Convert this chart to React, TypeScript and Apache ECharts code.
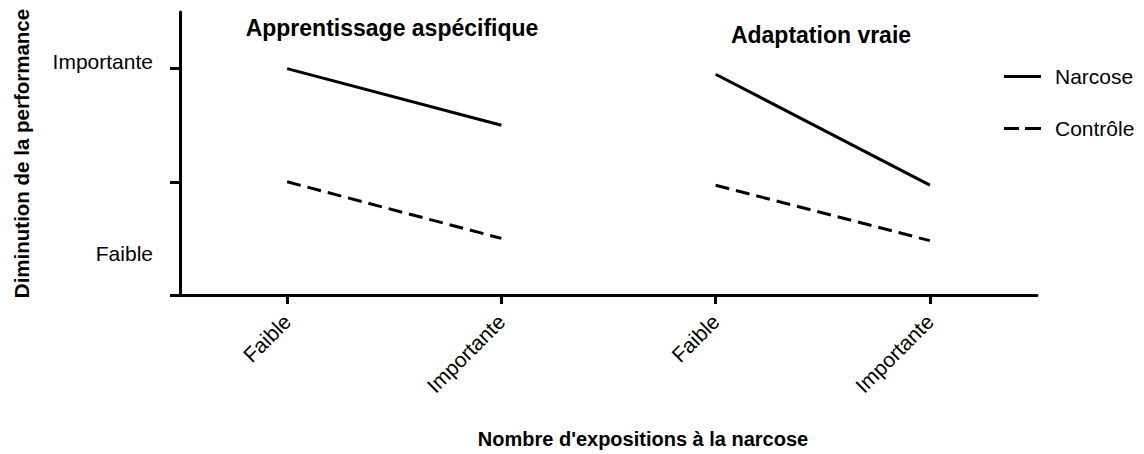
import React, { useEffect, useRef } from "react";
import * as echarts from "echarts";

const groupTitles = ["Apprentissage aspécifique", "Adaptation vraie"];
const xCategories = ["Faible", "Importante", "Faible", "Importante"];
const xValues = [0.5, 1.5, 2.5, 3.5];
const narcose = [2.0, 1.5, 1.95, 0.97];
const controle = [1.0, 0.5, 0.97, 0.48];
const yLevelLabels = ["Faible", "Importante"];
const seriesNames = ["Narcose", "Contrôle"];

const FONT = "'Liberation Sans', Arial, Helvetica, sans-serif";

export default function App() {
  const ref = useRef<HTMLDivElement>(null);
  useEffect(() => {
    if (!ref.current) return;
    const chart = echarts.init(ref.current, undefined, { renderer: "svg" });

    const makeSeries = (name: string, values: number[], dash: any) => {
      const out: any[] = [];
      for (let g = 0; g < 2; g++) {
        out.push({
          name,
          type: "line",
          symbol: "none",
          data: [
            [xValues[2 * g], values[2 * g]],
            [xValues[2 * g + 1], values[2 * g + 1]],
          ],
          lineStyle: { color: "#000", width: 3, type: dash },
          itemStyle: { color: "#000" },
        });
      }
      return out;
    };

    chart.setOption({
      animation: false,
      textStyle: { fontFamily: FONT, color: "#000" },
      grid: { left: 180, right: 107, top: 12, bottom: 153, containLabel: false },
      xAxis: {
        type: "value",
        min: 0,
        max: 4,
        name: "Nombre d'expositions à la narcose",
        nameLocation: "middle",
        nameGap: 134,
        nameTextStyle: {
          fontSize: 20,
          fontWeight: "bold",
          color: "#000",
          fontFamily: FONT,
          padding: [0, 0, 0, 69],
        },
        axisLine: { show: true, onZero: false, lineStyle: { color: "#000", width: 3 } },
        axisTick: {
          show: true,
          customValues: xValues,
          length: 9,
          lineStyle: { color: "#000", width: 3 },
        },
        axisLabel: {
          customValues: xValues,
          rotate: 45,
          margin: 23,
          fontSize: 21,
          color: "#000",
          fontFamily: FONT,
          formatter: (v: number) => xCategories[Math.floor(v)] ?? "",
        },
        splitLine: { show: false },
      },
      yAxis: {
        type: "value",
        min: 0,
        max: 2.5,
        name: "Diminution de la performance",
        nameLocation: "middle",
        nameRotate: 90,
        nameGap: 148,
        nameTextStyle: { fontSize: 20.5, fontWeight: "bold", color: "#000", fontFamily: FONT },
        axisLine: { show: true, onZero: false, lineStyle: { color: "#000", width: 3 } },
        axisTick: {
          show: true,
          customValues: [0, 1, 2],
          length: 10,
          lineStyle: { color: "#000", width: 3 },
        },
        axisLabel: {
          customValues: [0.37, 2.06],
          margin: 27,
          fontSize: 21,
          color: "#000",
          fontFamily: FONT,
          formatter: (v: number) => (v > 1 ? yLevelLabels[1] : yLevelLabels[0]),
        },
        splitLine: { show: false },
      },
      legend: {
        data: [
          { name: seriesNames[0], icon: "path://M0,0h37v3h-37z" },
          { name: seriesNames[1], icon: "path://M0,0h15v3h-15z M21,0h16v3h-16z" },
        ],
        orient: "vertical",
        left: 999,
        top: 61,
        itemWidth: 37,
        itemHeight: 3,
        itemGap: 31,
        itemStyle: { color: "#000", borderWidth: 0 },
        lineStyle: { width: 0 },
        textStyle: { fontSize: 21, color: "#000", fontFamily: FONT, padding: [0, 0, 0, 9] },
      },
      graphic: [
        {
          type: "text",
          x: 392,
          y: 28,
          style: {
            text: groupTitles[0],
            fontSize: 23,
            fontWeight: "bold",
            fontFamily: FONT,
            fill: "#000",
            align: "center",
            verticalAlign: "middle",
          },
        },
        {
          type: "text",
          x: 821,
          y: 35,
          style: {
            text: groupTitles[1],
            fontSize: 23,
            fontWeight: "bold",
            fontFamily: FONT,
            fill: "#000",
            align: "center",
            verticalAlign: "middle",
          },
        },
      ],
      series: [
        ...makeSeries(seriesNames[0], narcose, "solid"),
        ...makeSeries(seriesNames[1], controle, [14, 7]),
      ],
    });
    return () => chart.dispose();
  }, []);

  return (
    <div
      ref={ref}
      style={{ position: "absolute", left: 0, top: 0, width: 1144, height: 454 }}
    />
  );
}
